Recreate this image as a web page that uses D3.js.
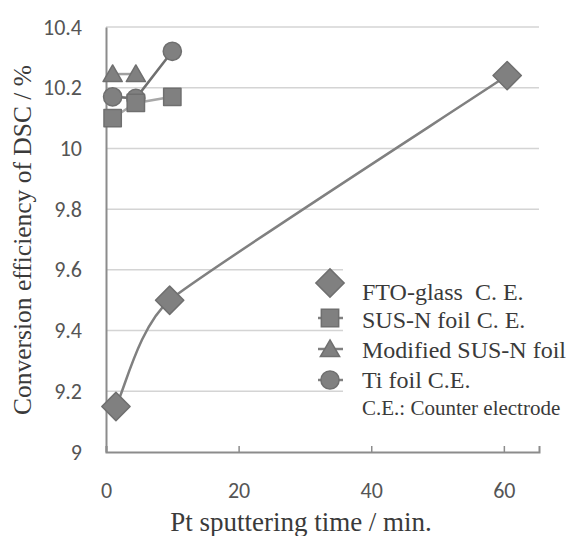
<!DOCTYPE html>
<html>
<head>
<meta charset="utf-8">
<script src="https://cdn.jsdelivr.net/npm/d3@7"></script>
<style>
  body { margin: 0; background: #fff; }
</style>
</head>
<body>
<div id="chart"></div>
<script>
const width = 572, height = 536;

// data
const ftoX = [1.5, 9.6, 60.5];
const ftoY = [9.15, 9.5, 10.24];
const susX = [1, 4.5, 10];
const susY = [10.10, 10.15, 10.17];
const modX = [1, 4.5];
const modY = [10.245, 10.245];
const tiX = [1, 4.5, 10];
const tiY = [10.17, 10.165, 10.32];
const xTicks = [0, 20, 40, 60];
const yTicks = [9, 9.2, 9.4, 9.6, 9.8, 10, 10.2, 10.4];
const legendLabels = ["FTO-glass\u00a0\u00a0C. E.", "SUS-N foil C. E.", "Modified SUS-N foil", "Ti foil C.E."];

const serif = '"Liberation Serif"';
const sans = '"Carlito"';

const svg = d3.select("#chart").append("svg")
    .attr("width", width)
    .attr("height", height);

const x = d3.scaleLinear().domain([0, 65.3]).range([106, 539]);
const y = d3.scaleLinear().domain([9, 10.4]).range([452, 27]);

const gray = "#808080";
const dark = "#6f6f6f";

// gridlines
svg.append("g").selectAll("line")
    .data(yTicks.slice(1))
    .enter().append("line")
    .attr("x1", x(0)).attr("x2", 539)
    .attr("y1", d => y(d)).attr("y2", d => y(d))
    .attr("stroke", "#d4d4d4")
    .attr("stroke-width", 1.5);

// axes
const xAxis = svg.append("g")
    .attr("transform", `translate(0,${y(9)})`)
    .call(d3.axisBottom(x).tickValues(xTicks).tickSize(-6).tickPadding(30).tickFormat(d3.format("d")));
xAxis.select(".domain").attr("stroke", "#8c8c8c").attr("stroke-width", 2);
xAxis.selectAll(".tick line").attr("stroke", "#8c8c8c").attr("stroke-width", 1.5);
xAxis.selectAll("text")
    .style("font-family", sans)
    .style("font-size", "22px")
    .attr("fill", "#555");

const yAxis = svg.append("g")
    .attr("transform", `translate(${x(0)},0)`)
    .call(d3.axisLeft(y).tickValues(yTicks).tickSize(0).tickPadding(24).tickFormat(d => d3.format("")(+d.toFixed(1))));
yAxis.select(".domain").attr("stroke", "#8c8c8c").attr("stroke-width", 2);
yAxis.selectAll("text")
    .style("font-family", sans)
    .style("font-size", "22px")
    .attr("fill", "#555");

// axis titles
svg.append("text")
    .attr("transform", `translate(31,240) rotate(-90)`)
    .attr("text-anchor", "middle")
    .style("font-family", serif)
    .style("font-size", "25.5px")
    .attr("fill", "#3a3a3a")
    .text("Conversion efficiency of DSC / %");

svg.append("text")
    .attr("x", 301).attr("y", 531)
    .attr("text-anchor", "middle")
    .style("font-family", serif)
    .style("font-size", "27px")
    .attr("fill", "#3a3a3a")
    .text("Pt sputtering time / min.");

// legend background covers gridlines
svg.append("rect")
    .attr("x", 343).attr("y", 262)
    .attr("width", 196).attr("height", 168)
    .attr("fill", "#fff");

// smoothed line: bezier handles follow the neighbours, kept short near short segments
function smooth(xs, ys) {
  const pts = xs.map((v, i) => [x(v), y(ys[i])]);
  const dist = (a, b) => Math.hypot(b[0] - a[0], b[1] - a[1]);
  const unit = (a, b) => { const l = dist(a, b); return [(b[0] - a[0]) / l, (b[1] - a[1]) / l]; };
  const p = d3.path();
  p.moveTo(pts[0][0], pts[0][1]);
  for (let i = 0; i < pts.length - 1; i++) {
    const a = pts[i], b = pts[i + 1];
    const d = dist(a, b);
    let ua, la, ub, lb;
    if (i > 0) { ua = unit(pts[i - 1], b); la = Math.min(d, dist(pts[i - 1], a)) / 3; }
    else { ua = unit(a, b); la = d / 6; }
    if (i + 2 < pts.length) { ub = unit(a, pts[i + 2]); lb = Math.min(d, dist(b, pts[i + 2])) / 3; }
    else { ub = unit(a, b); lb = d / 6; }
    p.bezierCurveTo(a[0] + ua[0] * la, a[1] + ua[1] * la,
                    b[0] - ub[0] * lb, b[1] - ub[1] * lb,
                    b[0], b[1]);
  }
  return p.toString();
}

const lineOf = (xs, ys) => d3.line()
    .x(d => x(xs[d]))
    .y(d => y(ys[d]))(d3.range(xs.length));

svg.append("path")
    .attr("d", smooth(ftoX, ftoY))
    .attr("fill", "none").attr("stroke", gray).attr("stroke-width", 2.5);
svg.append("path")
    .attr("d", lineOf(susX, susY))
    .attr("fill", "none").attr("stroke", "#a8a8a8").attr("stroke-width", 2.5);
svg.append("path")
    .attr("d", lineOf(modX, modY))
    .attr("fill", "none").attr("stroke", "#a0a0a0").attr("stroke-width", 2.5);
svg.append("path")
    .attr("d", lineOf(tiX, tiY))
    .attr("fill", "none").attr("stroke", dark).attr("stroke-width", 2.5);

// markers
const sym = {
  diamond: d3.symbol().type(d3.symbolSquare).size(400),
  square: d3.symbol().type(d3.symbolSquare).size(300),
  triangle: d3.symbol().type(d3.symbolTriangle).size(160),
  circle: d3.symbol().type(d3.symbolCircle).size(260)
};

function markers(xs, ys, kind) {
  svg.append("g").selectAll("path")
      .data(d3.range(xs.length))
      .enter().append("path")
      .attr("d", sym[kind]())
      .attr("transform", d => `translate(${x(xs[d])},${y(ys[d])})` + (kind === "diamond" ? " rotate(45)" : "") + (kind === "triangle" ? " translate(0,2)" : ""))
      .attr("fill", gray)
      .attr("stroke", dark)
      .attr("stroke-width", 1.5)
      .attr("stroke-linejoin", "round");
}
markers(tiX, tiY, "circle");
markers(modX, modY, "triangle");
markers(susX, susY, "square");
markers(ftoX, ftoY, "diamond");

// legend
const kinds = ["diamond", "square", "triangle", "circle"];
const legendY = [283, 318, 349, 380];
const baseY = [300, 328, 358, 388];
const lg = svg.append("g");
kinds.forEach((k, i) => {
  if (k !== "diamond") {
    lg.append("line")
        .attr("x1", 318).attr("x2", 343)
        .attr("y1", legendY[i]).attr("y2", legendY[i])
        .attr("stroke", gray).attr("stroke-width", 2.5);
  }
  lg.append("path")
      .attr("d", sym[k]())
      .attr("transform", `translate(330,${legendY[i]})` + (k === "diamond" ? " rotate(45)" : "") + (k === "triangle" ? " translate(0,2)" : ""))
      .attr("fill", gray)
      .attr("stroke", dark)
      .attr("stroke-width", 1.5);
  lg.append("text")
      .attr("x", 362).attr("y", baseY[i])
      .style("font-family", serif)
      .style("font-size", "24px")
      .attr("fill", "#3a3a3a")
      .text(legendLabels[i]);
});
lg.append("text")
    .attr("x", 362).attr("y", 415)
    .style("font-family", serif)
    .style("font-size", "21px")
    .attr("fill", "#3a3a3a")
    .text("C.E.: Counter electrode");
</script>
</body>
</html>
